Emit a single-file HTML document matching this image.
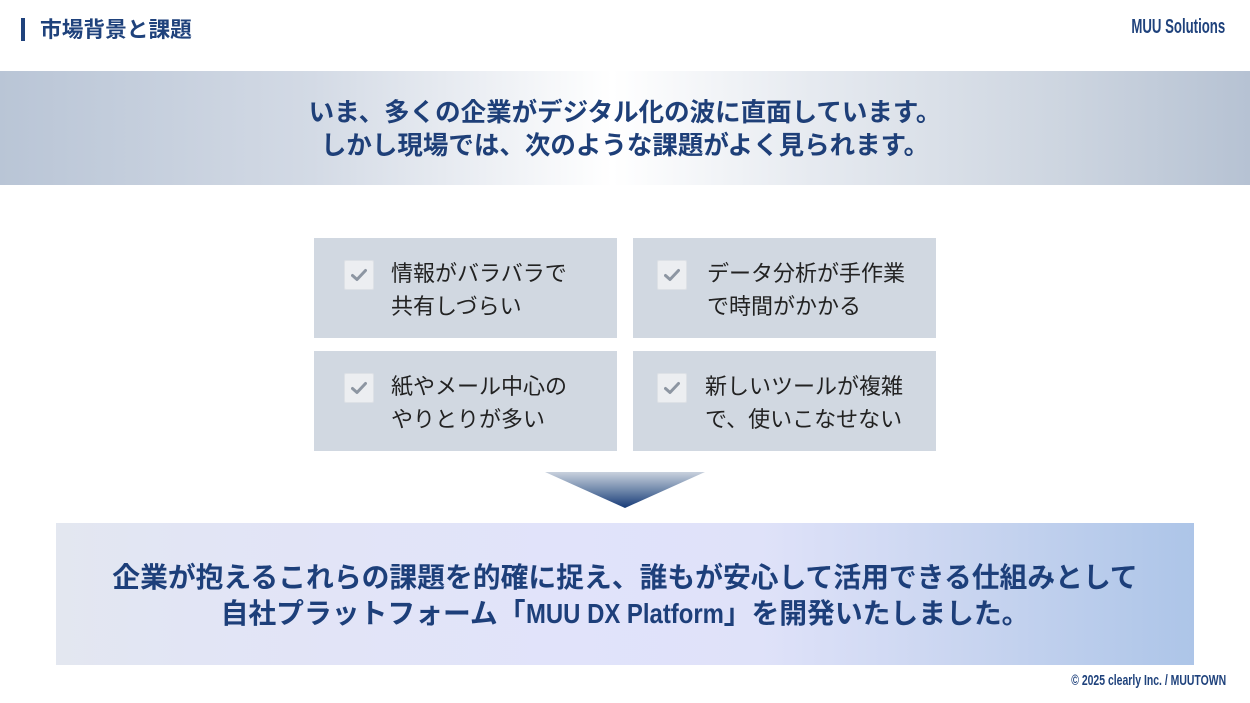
<!DOCTYPE html>
<html lang="ja">
<head>
<meta charset="utf-8">
<style>
  html, body { margin:0; padding:0; }
  body { width:1250px; height:703px; position:relative; overflow:hidden; background:#ffffff;
    font-family:"Liberation Sans","Noto Sans CJK JP",sans-serif; }
  .abs { position:absolute; }
  .bar { left:21px; top:18px; width:4px; height:23px; background:#1f427c; }
  .title { left:40px; top:15px; font-size:21.7px; line-height:30px; font-weight:700; color:#1f427c; white-space:nowrap; }
  .brand { right:25px; top:14px; font-size:20px; line-height:26px; font-weight:700; color:#1f427c; transform:scaleX(0.66); transform-origin:right center; white-space:nowrap; }
  .banner { left:0; top:71px; width:1250px; height:114px;
    background:linear-gradient(90deg,#b9c5d6 0%,#d3dae5 25%,#ffffff 49%,#e6eaf0 65%,#cdd5e0 85%,#b6c2d3 100%); }
  .bline { left:0; width:1250px; text-align:center; font-size:25.5px; line-height:33px; font-weight:700; color:#1e3f78; white-space:nowrap; }
  .box { width:303px; height:100px; background:#d1d8e1; }
  .chk { width:28px; height:28px; background:#eceef1; border:1px solid #dde1e6; border-radius:2px; }
  .chk svg { position:absolute; left:6px; top:7px; }
  .btxt { font-size:22px; line-height:33px; color:#222222; white-space:nowrap; }
  .bottom { left:56px; top:523px; width:1138px; height:142px;
    background:linear-gradient(90deg,#e3e7f0 0%,#e2e5f5 12%,#e1e3fa 45%,#dfe2f9 62%,#c9d5f0 80%,#adc5e8 100%); }
  .cline { left:0; width:1250px; text-align:center; font-size:27.8px; line-height:36px; font-weight:700; color:#1d3f7a; white-space:nowrap; }
  .narrow { display:inline-block; transform:scaleX(0.86); transform-origin:left center; margin-right:-32px; }
  .foot { right:24px; top:672px; font-size:14.5px; line-height:18px; font-weight:700; color:#1f427c; white-space:nowrap; transform:scaleX(0.72); transform-origin:right center; }
</style>
</head>
<body>
  <div class="abs bar"></div>
  <div class="abs title">市場背景と課題</div>
  <div class="abs brand">MUU Solutions</div>

  <div class="abs banner"></div>
  <div class="abs bline" style="top:97px;">いま、多くの企業がデジタル化の波に直面しています。</div>
  <div class="abs bline" style="top:130px;">しかし現場では、次のような課題がよく見られます。</div>

  <!-- boxes -->
  <div class="abs box" style="left:314px;top:238px;"></div>
  <div class="abs box" style="left:633px;top:238px;"></div>
  <div class="abs box" style="left:314px;top:351px;"></div>
  <div class="abs box" style="left:633px;top:351px;"></div>

  <div class="abs chk" style="left:344px;top:260px;"><svg width="16" height="14" viewBox="0 0 16 14"><path d="M1.5 7.5 L6 11.5 L14.5 2.5" fill="none" stroke="#8d96a2" stroke-width="3" stroke-linecap="round" stroke-linejoin="round"/></svg></div>
  <div class="abs chk" style="left:657px;top:260px;"><svg width="16" height="14" viewBox="0 0 16 14"><path d="M1.5 7.5 L6 11.5 L14.5 2.5" fill="none" stroke="#8d96a2" stroke-width="3" stroke-linecap="round" stroke-linejoin="round"/></svg></div>
  <div class="abs chk" style="left:344px;top:373px;"><svg width="16" height="14" viewBox="0 0 16 14"><path d="M1.5 7.5 L6 11.5 L14.5 2.5" fill="none" stroke="#8d96a2" stroke-width="3" stroke-linecap="round" stroke-linejoin="round"/></svg></div>
  <div class="abs chk" style="left:657px;top:373px;"><svg width="16" height="14" viewBox="0 0 16 14"><path d="M1.5 7.5 L6 11.5 L14.5 2.5" fill="none" stroke="#8d96a2" stroke-width="3" stroke-linecap="round" stroke-linejoin="round"/></svg></div>

  <div class="abs btxt" style="left:391px;top:257px;">情報がバラバラで<br>共有しづらい</div>
  <div class="abs btxt" style="left:707px;top:257px;">データ分析が手作業<br>で時間がかかる</div>
  <div class="abs btxt" style="left:391px;top:370px;">紙やメール中心の<br>やりとりが多い</div>
  <div class="abs btxt" style="left:705px;top:370px;">新しいツールが複雑<br>で、使いこなせない</div>

  <!-- arrow -->
  <svg class="abs" style="left:0;top:0;" width="1250" height="703" viewBox="0 0 1250 703">
    <defs>
      <linearGradient id="ag" x1="0" y1="0" x2="0" y2="1">
        <stop offset="0" stop-color="#c9d1dd"/>
        <stop offset="0.5" stop-color="#7189ab"/>
        <stop offset="1" stop-color="#163a77"/>
      </linearGradient>
    </defs>
    <polygon points="545,472 705,472 625,508" fill="url(#ag)"/>
  </svg>

  <div class="abs bottom"></div>
  <div class="abs cline" style="top:560px;">企業が抱えるこれらの課題を的確に捉え、誰もが安心して活用できる仕組みとして</div>
  <div class="abs cline" style="top:596px;">自社プラットフォーム「<span class="narrow">MUU DX Platform</span>」を開発いたしました。</div>

  <div class="abs foot">© 2025 clearly Inc. / MUUTOWN</div>
</body>
</html>
